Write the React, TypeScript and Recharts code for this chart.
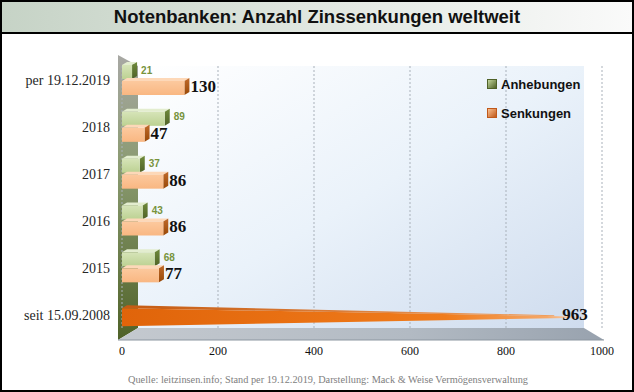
import React from 'react';
import { BarChart, Bar, XAxis, YAxis, CartesianGrid, Legend, LabelList } from 'recharts';

document.body.style.margin = '0';

const categories = ['per 19.12.2019', '2018', '2017', '2016', '2015', 'seit 15.09.2008'];
const anhebungen: (number | null)[] = [21, 89, 37, 43, 68, null];
const senkungen = [130, 47, 86, 86, 77, 963];
const xTicks = [0, 200, 400, 600, 800, 1000];

const data = categories.map((name, i) => ({
    name,
    Anhebungen: anhebungen[i],
    Senkungen: senkungen[i],
}));

const serif = '"Liberation Serif", "DejaVu Serif", serif';
const sans = '"Liberation Sans", Arial, sans-serif';

const D = 5; // depth of the fake 3d side
const GAP = 2;

const GreenBar = (p: any) => {
    const { x, y, width, height } = p;
    if (!width || width <= 0) return null;
    return (
        <g>
            <polygon points={`${x},${y} ${x + D},${y - 3} ${x + width + D},${y - 3} ${x + width},${y}`} fill="#e3edcf" />
            <polygon points={`${x + width},${y} ${x + width + D},${y - 3} ${x + width + D},${y + height - 3} ${x + width},${y + height}`} fill="url(#gSide)" />
            <rect x={x} y={y} width={width} height={height} fill="url(#gFront)" />
        </g>
    );
};

const OrangeBar = (p: any) => {
    const { x, y, width, height, payload } = p;
    if (!width || width <= 0) return null;
    if (payload && payload.Anhebungen == null) {
        // single bar in its row: centre it and let it taper off
        const cy = y - GAP / 2 + 3;
        const h = 9;
        return (
            <g>
                <polygon points={`${x},${cy - h} ${x + D},${cy - h - 3} ${x + width - 30},${cy - 2} ${x + width - 30},${cy - 1}`} fill="url(#oTop)" />
                <polygon points={`${x},${cy - h} ${x + width},${cy - 0.5} ${x + width},${cy + 0.5} ${x},${cy + h}`} fill="url(#oBig)" />
            </g>
        );
    }
    return (
        <g>
            <polygon points={`${x},${y} ${x + D},${y - 3} ${x + width + D},${y - 3} ${x + width},${y}`} fill="#fdd8b8" />
            <polygon points={`${x + width},${y} ${x + width + D},${y - 3} ${x + width + D},${y + height - 3} ${x + width},${y + height}`} fill="url(#oSide)" />
            <rect x={x} y={y} width={width} height={height} fill="url(#oFront)" />
        </g>
    );
};

const greenLabel = (p: any) => {
    const vb = p.viewBox ?? p;
    if (p.value == null) return null;
    return (
        <text x={vb.x + vb.width + D + 4} y={vb.y + vb.height / 2 - 1} dominantBaseline="middle"
            fontFamily={sans} fontWeight="bold" fontSize={10} fill="#77933c">{p.value}</text>
    );
};

const orangeLabel = (p: any) => {
    const vb = p.viewBox ?? p;
    const single = anhebungen[p.index] == null;
    const yy = single ? vb.y - GAP / 2 + 2 : vb.y + vb.height / 2;
    return (
        <text x={vb.x + vb.width + (single ? -22 : D + 1)} y={yy} dominantBaseline="middle"
            fontFamily={serif} fontWeight="bold" fontSize={17} fill="#111">{p.value}</text>
    );
};

const legendContent = () => (
    <div style={{ fontFamily: sans, fontWeight: 'bold', fontSize: 13, color: '#111', textAlign: 'left' }}>
        {[
            { label: 'Anhebungen', a: '#c3d69b', b: '#4f6228' },
            { label: 'Senkungen', a: '#fac090', b: '#c0581a' },
        ].map((e) => (
            <div key={e.label} style={{ display: 'flex', alignItems: 'center', height: 16, marginBottom: 13 }}>
                <span style={{ width: 8, height: 8, marginRight: 4, background: `linear-gradient(135deg, ${e.a}, ${e.b})`, border: `1px solid ${e.b}` }} />
                {e.label}
            </div>
        ))}
    </div>
);

export default function App() {
    return (
        <div style={{ position: 'relative', width: 634, height: 392, background: '#fff', overflow: 'hidden', boxSizing: 'border-box' }}>
            {/* title band */}
            <div style={{
                position: 'absolute', left: 0, top: 0, width: 634, height: 34, boxSizing: 'border-box',
                border: '2px solid #000',
                background: 'linear-gradient(90deg, #c6d3c6 0%, #e3e9e3 55%, #fafafa 100%)',
                display: 'flex', alignItems: 'center', justifyContent: 'center',
                fontFamily: sans, fontWeight: 'bold', fontSize: 18.5, color: '#111',
            }}>
                Notenbanken: Anzahl Zinssenkungen weltweit
            </div>
            <div style={{
                position: 'absolute', left: 0, top: 32, width: 634, height: 360, boxSizing: 'border-box',
                borderLeft: '2px solid #000', borderRight: '2px solid #000', borderBottom: '2px solid #000',
            }} />

            {/* wall, back plane and floor */}
            <svg width={634} height={392} style={{ position: 'absolute', left: 0, top: 0 }}>
                <defs>
                    <linearGradient id="bgBack" x1="0" y1="0" x2="1" y2="1">
                        <stop offset="0%" stopColor="#ffffff" />
                        <stop offset="50%" stopColor="#eaf2fa" />
                        <stop offset="100%" stopColor="#cfdcee" />
                    </linearGradient>
                    <linearGradient id="bgWall" x1="0" y1="0" x2="0" y2="1">
                        <stop offset="0%" stopColor="#a8a8a4" />
                        <stop offset="40%" stopColor="#8a9a70" />
                        <stop offset="100%" stopColor="#4f6228" />
                    </linearGradient>
                    <linearGradient id="bgFloor" x1="0" y1="0" x2="1" y2="0">
                        <stop offset="0%" stopColor="#c4c9cf" />
                        <stop offset="60%" stopColor="#b2bac3" />
                        <stop offset="100%" stopColor="#98a2ae" />
                    </linearGradient>
                </defs>
                <rect x={138} y={66} width={446} height={262} fill="url(#bgBack)" />
                <polygon points="118,55 138,66 138,328 118,340" fill="url(#bgWall)" />
                <polygon points="138,328 584,328 604,340 118,340" fill="url(#bgFloor)" />
                <line x1={118} y1={340} x2={604} y2={340} stroke="#8c96a0" strokeWidth={1} />
            </svg>

            <div style={{ position: 'absolute', left: 0, top: 0 }}>
                <BarChart width={634} height={392} data={data} layout="vertical"
                    margin={{ top: 57, right: 32, bottom: 34, left: 8 }} barSize={14} barGap={GAP}>
                    <defs>
                        <linearGradient id="gFront" x1="0" y1="0" x2="0" y2="1">
                            <stop offset="0%" stopColor="#d6e4b8" />
                            <stop offset="100%" stopColor="#bcd192" />
                        </linearGradient>
                        <linearGradient id="gSide" x1="0" y1="0" x2="0" y2="1">
                            <stop offset="0%" stopColor="#6f8a3a" />
                            <stop offset="100%" stopColor="#4f6228" />
                        </linearGradient>
                        <linearGradient id="oFront" x1="0" y1="0" x2="0" y2="1">
                            <stop offset="0%" stopColor="#fcc99e" />
                            <stop offset="100%" stopColor="#f9b782" />
                        </linearGradient>
                        <linearGradient id="oSide" x1="0" y1="0" x2="0" y2="1">
                            <stop offset="0%" stopColor="#c06a2a" />
                            <stop offset="100%" stopColor="#984807" />
                        </linearGradient>
                        <linearGradient id="oBig" x1="0" y1="0" x2="1" y2="0">
                            <stop offset="0%" stopColor="#e0640a" />
                            <stop offset="70%" stopColor="#f07c1c" />
                            <stop offset="92%" stopColor="#f5a868" />
                            <stop offset="100%" stopColor="#fbe3cf" />
                        </linearGradient>
                        <linearGradient id="oTop" x1="0" y1="0" x2="1" y2="0">
                            <stop offset="0%" stopColor="#c55a11" />
                            <stop offset="100%" stopColor="#f0a060" />
                        </linearGradient>
                    </defs>
                    <CartesianGrid horizontal={false} strokeDasharray="2 2" stroke="#a9b1ba" y={66} height={262} />
                    <XAxis type="number" domain={[0, 1000]} ticks={xTicks} axisLine={false} tickLine={false}
                        height={20} tick={{ fontFamily: serif, fontSize: 12, fill: '#111' }} />
                    <YAxis type="category" dataKey="name" width={114} axisLine={false} tickLine={false} tickMargin={6}
                        tick={{ fontFamily: serif, fontSize: 14, fill: '#262626' }} />
                    <Legend content={legendContent} layout="horizontal" verticalAlign="middle" align="center"
                        wrapperStyle={{ position: 'absolute', left: 487, top: 76, width: 120 }} />
                    <Bar dataKey="Anhebungen" shape={GreenBar} isAnimationActive={false}>
                        <LabelList dataKey="Anhebungen" content={greenLabel} />
                    </Bar>
                    <Bar dataKey="Senkungen" shape={OrangeBar} isAnimationActive={false}>
                        <LabelList dataKey="Senkungen" content={orangeLabel} />
                    </Bar>
                </BarChart>
            </div>

            <div style={{
                position: 'absolute', left: 22, top: 374, width: 612, textAlign: 'center',
                fontFamily: serif, fontSize: 10.3, color: '#808080',
            }}>
                Quelle: leitzinsen.info; Stand per 19.12.2019, Darstellung: Mack &amp; Weise Vermögensverwaltung
            </div>
        </div>
    );
}
